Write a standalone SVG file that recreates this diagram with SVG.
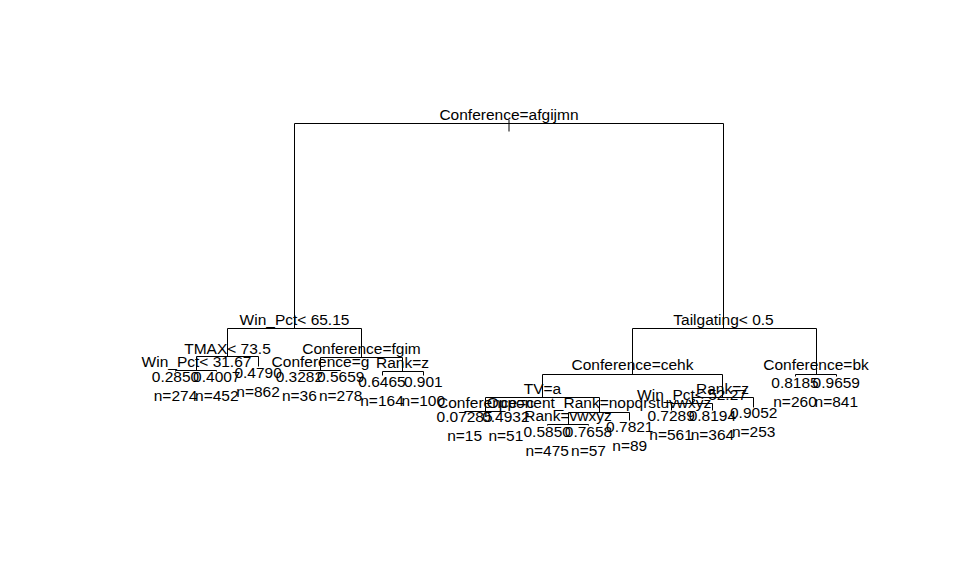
<svg xmlns="http://www.w3.org/2000/svg" width="974" height="572" viewBox="0 0 974 572">
<style>
text{font-family:"Liberation Sans",Arial,sans-serif;font-size:15.5px;fill:#000;text-anchor:middle}
.c{fill:none;stroke:#000;stroke-width:1}
</style>
<rect width="974" height="572" fill="#fff"/>
<g id="connectors" class="c">
<path d="M509,120V131.5"/>
<path d="M294.5,328.5V123.5H723.5V328.5"/>
<path d="M227.5,356.5V328.5H361.5V357.5"/>
<path d="M196.5,370.5V356.5H258.5V366.5"/>
<path d="M175.5,371.5V370.5H216.5V371.5"/>
<path d="M320.5,370.5V357.5H402.5V371.5"/>
<path d="M299.5,371V370.5H340.5V371"/>
<path d="M382.5,375.5V371.5H423.5V375.5"/>
<path d="M632.5,374.5V328.5H816.5V374.5"/>
<path d="M795.5,376.5V374.5H836.5V376.5"/>
<path d="M542.5,397.5V374.5H722.5V397.5"/>
<path d="M485.5,411.5V397.5H599.5V412.5"/>
<path d="M464.5,411.5H505.5"/>
<path d="M568.5,424.5V412.5H629.5V420.5"/>
<path d="M547.5,425.5V424.5H588.5V425.5"/>
<path d="M692.5,403.5V397.5H753.5V407.5"/>
<path d="M671.5,410.5V403.5H712.5V410.5"/>
</g>
<g id="n_root"><text x="509" y="120">Conference=afgijmn</text></g>
<g id="n_winpct65"><text x="294.5" y="324.5">Win_Pct&lt; 65.15</text></g>
<g id="n_tailgating"><text x="723.5" y="324.5">Tailgating&lt; 0.5</text></g>
<g id="n_tmax"><text x="227.5" y="354">TMAX&lt; 73.5</text></g>
<g id="n_fgim"><text x="361.5" y="353.5">Conference=fgim</text></g>
<g id="n_winpct31"><text x="196.5" y="367">Win_Pct&lt; 31.67</text></g>
<g id="n_confg"><text x="320.5" y="366.5">Conference=g</text></g>
<g id="n_rankz1"><text x="402.5" y="367.5">Rank=z</text></g>
<g id="n_cehk"><text x="632.5" y="370">Conference=cehk</text></g>
<g id="n_bk"><text x="816" y="370">Conference=bk</text></g>
<g id="n_tva"><text x="542.5" y="394">TV=a</text></g>
<g id="n_rankz2"><text x="722.5" y="393.5">Rank=z</text></g>
<g id="n_confc"><text x="485.5" y="407.5">Conference=c</text></g>
<g id="n_opp"><text x="599" y="408">Opponent_Rank=nopqrstuvwxyz</text></g>
<g id="n_winpct52"><text x="692" y="400">Win_Pct&lt; 52.27</text></g>
<g id="n_rankvwxyz"><text x="568" y="421">Rank=vwxyz</text></g>
<g id="leaf1"><text x="175.5" y="381.5">0.2850</text><text x="175.5" y="400.5">n=274</text></g>
<g id="leaf2"><text x="216.8" y="381.5">0.4007</text><text x="216.8" y="400.5">n=452</text></g>
<g id="leaf3"><text x="258.1" y="378">0.4790</text><text x="258.1" y="397">n=862</text></g>
<g id="leaf4"><text x="299.4" y="381.5">0.3282</text><text x="299.4" y="400.5">n=36</text></g>
<g id="leaf5"><text x="340.7" y="381.5">0.5659</text><text x="340.7" y="400.5">n=278</text></g>
<g id="leaf6"><text x="382" y="386.5">0.6465</text><text x="382" y="405.5">n=164</text></g>
<g id="leaf7"><text x="423.3" y="386.5">0.901</text><text x="423.3" y="405.5">n=100</text></g>
<g id="leaf8"><text x="464.6" y="421.5">0.07285</text><text x="464.6" y="440.5">n=15</text></g>
<g id="leaf9"><text x="505.9" y="421.5">0.4932</text><text x="505.9" y="440.5">n=51</text></g>
<g id="leaf10"><text x="547.2" y="436.5">0.5850</text><text x="547.2" y="455.5">n=475</text></g>
<g id="leaf11"><text x="588.5" y="436.5">0.7658</text><text x="588.5" y="455.5">n=57</text></g>
<g id="leaf12"><text x="629.8" y="431.5">0.7821</text><text x="629.8" y="450.5">n=89</text></g>
<g id="leaf13"><text x="671.1" y="421">0.7289</text><text x="671.1" y="440">n=561</text></g>
<g id="leaf14"><text x="712.4" y="421">0.8194</text><text x="712.4" y="440">n=364</text></g>
<g id="leaf15"><text x="753.7" y="418">0.9052</text><text x="753.7" y="437">n=253</text></g>
<g id="leaf16"><text x="795" y="387.5">0.8185</text><text x="795" y="406.5">n=260</text></g>
<g id="leaf17"><text x="836.3" y="387.5">0.9659</text><text x="836.3" y="406.5">n=841</text></g>
</svg>
